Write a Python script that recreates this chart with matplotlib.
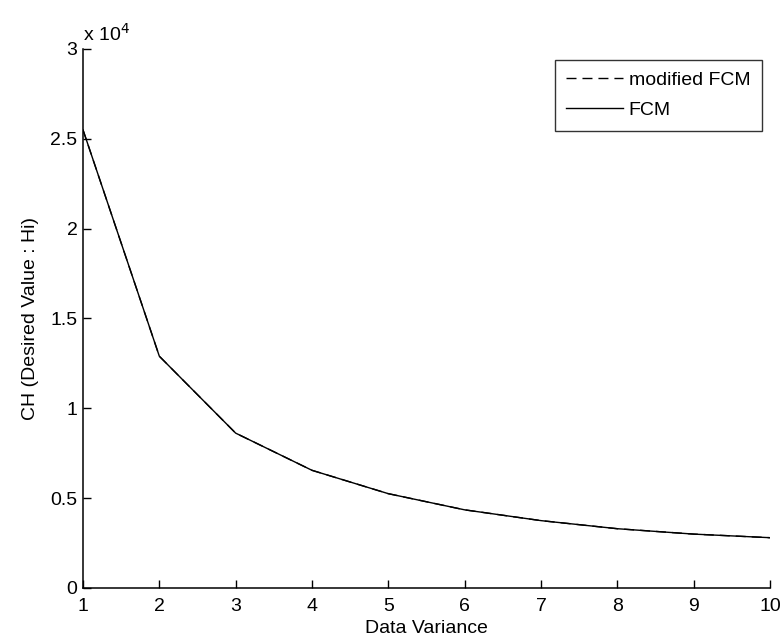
import matplotlib
matplotlib.use("Agg")
import matplotlib.pyplot as plt
from matplotlib.ticker import FuncFormatter

plt.rcParams['font.family'] = ['Liberation Sans', 'DejaVu Sans']

variance = [1, 2, 3, 4, 5, 6, 7, 8, 9, 10]
modified_fcm = [25500, 12900, 8620, 6550, 5250, 4350, 3750, 3300, 3000, 2800]
fcm = [25500, 12900, 8620, 6550, 5250, 4350, 3750, 3300, 3000, 2800]
xticks = [1, 2, 3, 4, 5, 6, 7, 8, 9, 10]
yticks = [0, 5000, 10000, 15000, 20000, 25000, 30000]

FS = 14

fig = plt.figure(figsize=(7.81, 6.42), dpi=100)
ax = fig.add_axes([83/781, 54/642, (770-83)/781, (588-49)/642])

ax.plot(variance, modified_fcm, color='black', linestyle=(0, (7.2, 4.3)), linewidth=1.0, label='modified FCM')
ax.plot(variance, fcm, color='black', linestyle='-', linewidth=1.0, label='FCM')

ax.set_xlim(1, 10)
ax.set_ylim(0, 30000)
ax.set_xticks(xticks)
ax.set_yticks(yticks)
ax.yaxis.set_major_formatter(FuncFormatter(lambda v, p: '%g' % (v / 1e4)))

for s in ['top', 'right']:
    ax.spines[s].set_visible(False)
for s in ['left', 'bottom']:
    ax.spines[s].set_linewidth(1.1)

ax.tick_params(direction='in', length=5.5, width=1.0, labelsize=FS, colors='black')
ax.tick_params(axis='x', pad=7)
ax.tick_params(axis='y', pad=4)

ax.text(0.0, 1.008, r'x 10$^{4}$', transform=ax.transAxes, fontsize=FS,
        ha='left', va='bottom')

ax.set_xlabel('Data Variance', fontsize=FS, labelpad=4)
ax.set_ylabel('CH (Desired Value : Hi)', fontsize=FS, labelpad=8)

leg = ax.legend(loc='upper right', bbox_to_anchor=(762/781, (642-60)/642),
                bbox_transform=fig.transFigure, frameon=True,
                fancybox=False, edgecolor='black', fontsize=FS, handlelength=2.9,
                handletextpad=0.3, borderpad=0.6, labelspacing=0.62, borderaxespad=0)
leg.get_frame().set_linewidth(1.0)

fig.savefig('out.png', dpi=100, facecolor='white')
